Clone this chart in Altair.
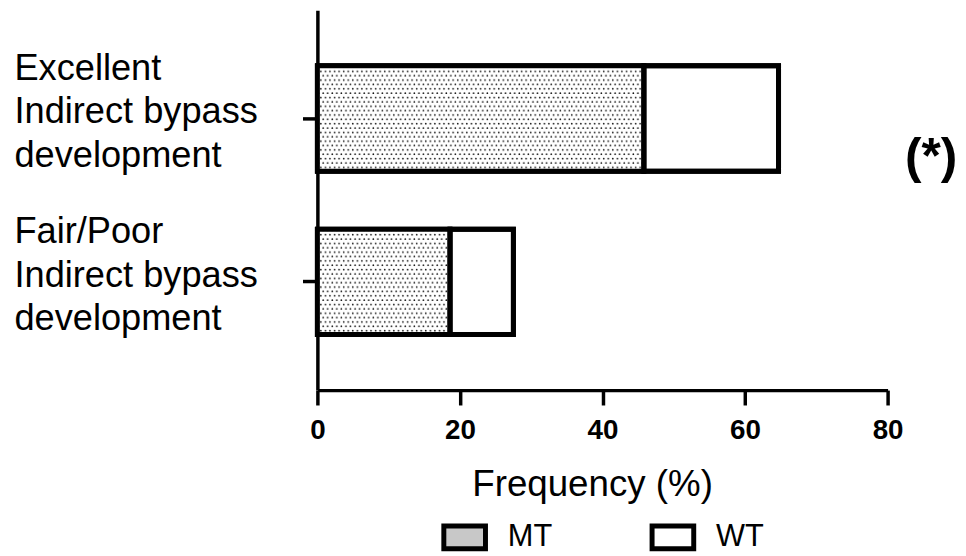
import altair as alt
import pandas as pd
from urllib.parse import quote

# ---- data ----
categories = ["Excellent|Indirect bypass|development", "Fair/Poor|Indirect bypass|development"]
groups = ["MT", "WT"]
mt_values = [45.8, 18.6]
wt_values = [18.9, 8.9]
x_ticks = [0, 20, 40, 60, 80]
annotation_rows = ["Excellent|Indirect bypass|development"]
annotation_text = ["(*)"]
annotation_x = [86.1]

rows = []
for i, c in enumerate(categories):
    rows.append({"category": c, "group": "MT", "value": mt_values[i], "order": 0})
    rows.append({"category": c, "group": "WT", "value": wt_values[i], "order": 1})
df = pd.DataFrame(rows)
ann = pd.DataFrame({"category": annotation_rows, "label": annotation_text, "ax": annotation_x})

FONT = "Liberation Sans"

# dotted fill pattern used inside the MT bars
pattern_svg = (
    "<svg xmlns='http://www.w3.org/2000/svg' width='100%' height='100%'>"
    "<defs><pattern id='d' width='4.6' height='8.8' patternUnits='userSpaceOnUse'>"
    "<circle cx='1.2' cy='1.2' r='0.85' fill='#111'/>"
    "<circle cx='3.5' cy='5.6' r='0.85' fill='#111'/>"
    "</pattern></defs>"
    "<rect width='100%' height='100%' fill='white'/>"
    "<rect width='100%' height='100%' fill='url(#d)'/></svg>"
)
pattern_url = "data:image/svg+xml;charset=utf-8," + quote(pattern_svg)

x_axis = alt.Axis(
    values=x_ticks,
    labelFontSize=28,
    labelFontWeight="bold",
    labelPadding=12,
    labelFlush=False,
    titleFontSize=37,
    titleFontWeight="normal",
    titleX=277,
    titleY=106,
    titleAlign="center",
    titleBaseline="alphabetic",
)
x_scale = alt.Scale(domain=[0, 80], nice=False)

y_enc = alt.Y(
    "category:N",
    sort=categories,
    scale=alt.Scale(paddingInner=0.355, paddingOuter=0.34),
    axis=alt.Axis(
        title=None,
        labelExpr="split(datum.label, '|')",
        labelAlign="left",
        labelBaseline="middle",
        labelPadding=291,
        labelFontSize=36.5,
        labelLineHeight=44,
        labelLimit=600,
        labelOffset=-50,
    ),
)

base = alt.Chart(df)

filled = base.mark_bar(stroke="black", strokeWidth=5).encode(
    x=alt.X("value:Q", stack="zero", scale=x_scale, axis=x_axis, title="Frequency (%)"),
    y=y_enc,
    fill=alt.Fill(
        "group:N",
        scale=alt.Scale(domain=groups, range=["#c8c8c8", "white"]),
        legend=alt.Legend(
            title=None,
            orient="none",
            legendX=125,
            legendY=507.5,
            direction="horizontal",
            symbolType="M-1,-0.55L1,-0.55L1,0.55L-1,0.55Z",
            symbolSize=1764,
            symbolStrokeColor="black",
            symbolStrokeWidth=5,
            labelFontSize=31,
            labelOffset=20,
            columnPadding=90,
            padding=0,
        ),
    ),
    order=alt.Order("order:Q"),
)

dots = base.transform_filter(alt.datum.group == "MT").mark_image(aspect=False).encode(
    x=alt.X("value:Q", scale=x_scale, axis=x_axis, title="Frequency (%)"),
    x2=alt.datum(0),
    y=y_enc,
    url=alt.value(pattern_url),
)

outline = base.mark_bar(fill="white", fillOpacity=0, stroke="black", strokeWidth=5).encode(
    x=alt.X("value:Q", stack="zero", scale=x_scale, axis=x_axis, title="Frequency (%)"),
    y=y_enc,
    order=alt.Order("order:Q"),
)

note = alt.Chart(ann).mark_text(
    fontSize=50, fontWeight="bold", font=FONT, dy=40, align="center", baseline="middle", color="black"
).encode(
    x=alt.X("ax:Q", scale=x_scale, axis=x_axis, title="Frequency (%)"),
    y=y_enc,
    text="label:N",
)

chart = (
    alt.layer(filled, dots, outline, note)
    .properties(width=575, height=383, padding={"left": 6, "top": 0, "right": 0, "bottom": 0})
    .configure(font=FONT)
    .configure_view(stroke=None)
    .configure_axis(
        grid=False,
        domainColor="black",
        tickColor="black",
        domainWidth=3.5,
        tickWidth=3.5,
        tickSize=15,
        labelColor="black",
        titleColor="black",
        labelFont=FONT,
        titleFont=FONT,
    )
    .configure_legend(labelFont=FONT, labelColor="black")
)

chart.save("out.html", embed_options={"renderer": "svg", "actions": False})
